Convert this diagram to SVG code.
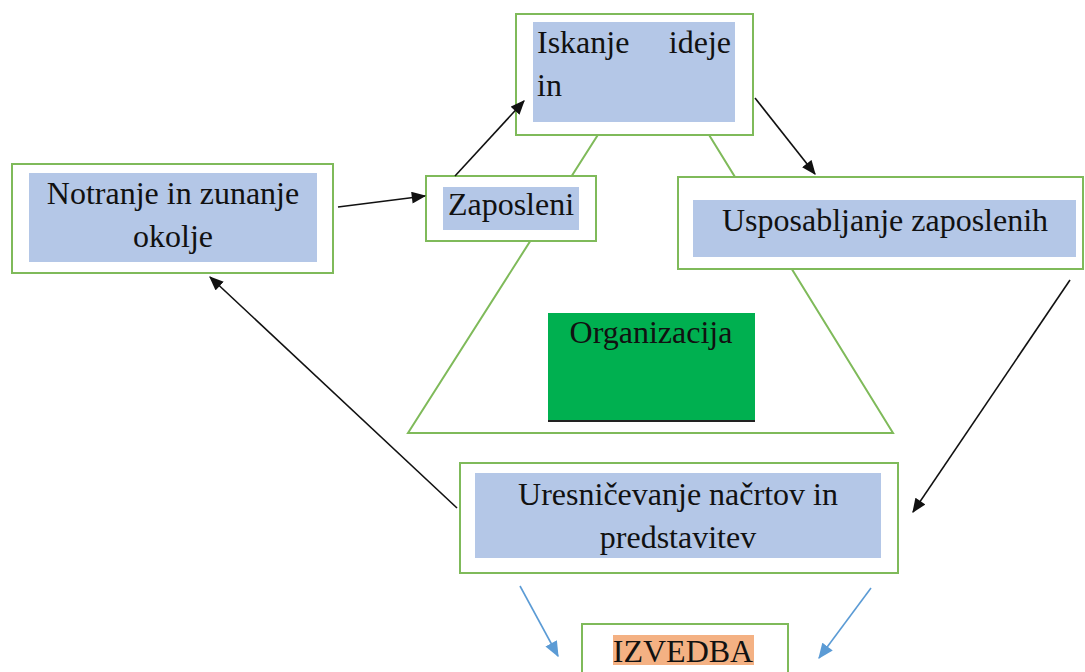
<svg xmlns="http://www.w3.org/2000/svg" width="1085" height="672" viewBox="0 0 1085 672">
<style>
.box{fill:#ffffff;stroke:#7fba5a;stroke-width:2}
.hl{fill:#b4c7e7}
.c{text-anchor:middle}
</style>
<defs>
<marker id="ah" viewBox="0 0 12 10" refX="11" refY="5" markerWidth="15" markerHeight="12" markerUnits="userSpaceOnUse" orient="auto"><path d="M0,0 L12,5 L0,10 z" fill="#111"/></marker>
<marker id="bh" viewBox="0 0 12 10" refX="11" refY="5" markerWidth="16" markerHeight="13" markerUnits="userSpaceOnUse" orient="auto"><path d="M0,0 L12,5 L0,10 z" fill="#5b9bd5"/></marker>
</defs>
<rect width="1085" height="672" fill="#ffffff"/>
<g id="trapezoid">
<polygon points="601,130 706,130 893,433 408,433" fill="none" stroke="#7fba5a" stroke-width="2"/>
</g>
<g font-family="Liberation Serif, Times New Roman, serif" font-size="32" fill="#111">
<g id="organizacija">
<rect x="548" y="313" width="207" height="109" fill="#00b050"/>
<line x1="548" y1="421" x2="755" y2="421" stroke="#222" stroke-width="2"/>
<text class="c" x="651" y="343">Organizacija</text>
</g>
<g id="iskanje">
<rect class="box" x="516" y="14" width="237" height="121"/>
<rect class="hl" x="533" y="22" width="202" height="100"/>
<text x="537" y="53">Iskanje</text>
<text x="731" y="53" text-anchor="end">ideje</text>
<text x="537" y="96">in</text>
</g>
<g id="notranje">
<rect class="box" x="12" y="164" width="321" height="109"/>
<rect class="hl" x="29" y="173" width="288" height="89"/>
<text class="c" x="173" y="204">Notranje in zunanje</text>
<text class="c" x="173" y="247">okolje</text>
</g>
<g id="zaposleni">
<rect class="box" x="426" y="176" width="170" height="65"/>
<rect class="hl" x="443" y="187" width="136" height="43"/>
<text class="c" x="511" y="215">Zaposleni</text>
</g>
<g id="usposabljanje">
<rect class="box" x="678" y="177" width="405" height="92"/>
<rect class="hl" x="693" y="200" width="383" height="57"/>
<text class="c" x="885" y="231">Usposabljanje zaposlenih</text>
</g>
<g id="uresnicevanje">
<rect class="box" x="460" y="463" width="438" height="110"/>
<rect class="hl" x="475" y="473" width="406" height="85"/>
<text class="c" x="678" y="505">Uresničevanje načrtov in</text>
<text class="c" x="678" y="548">predstavitev</text>
</g>
<g id="izvedba">
<rect class="box" x="582" y="624" width="206" height="60"/>
<rect x="613" y="635" width="141" height="30" fill="#f4b183"/>
<text class="c" x="683" y="662">IZVEDBA</text>
</g>
</g>
<g id="connectors" fill="none" stroke-width="1.6">
<line stroke="#111" marker-end="url(#ah)" x1="338" y1="207" x2="425" y2="196"/>
<line stroke="#111" marker-end="url(#ah)" x1="455" y1="176" x2="524" y2="101"/>
<line stroke="#111" marker-end="url(#ah)" x1="755" y1="98" x2="815" y2="174"/>
<line stroke="#111" marker-end="url(#ah)" x1="1070" y1="280" x2="913" y2="512"/>
<line stroke="#111" marker-end="url(#ah)" x1="457" y1="508" x2="210" y2="277"/>
<line stroke="#5b9bd5" marker-end="url(#bh)" x1="520" y1="586" x2="558" y2="656"/>
<line stroke="#5b9bd5" marker-end="url(#bh)" x1="871" y1="588" x2="819" y2="658"/>
</g>
</svg>
